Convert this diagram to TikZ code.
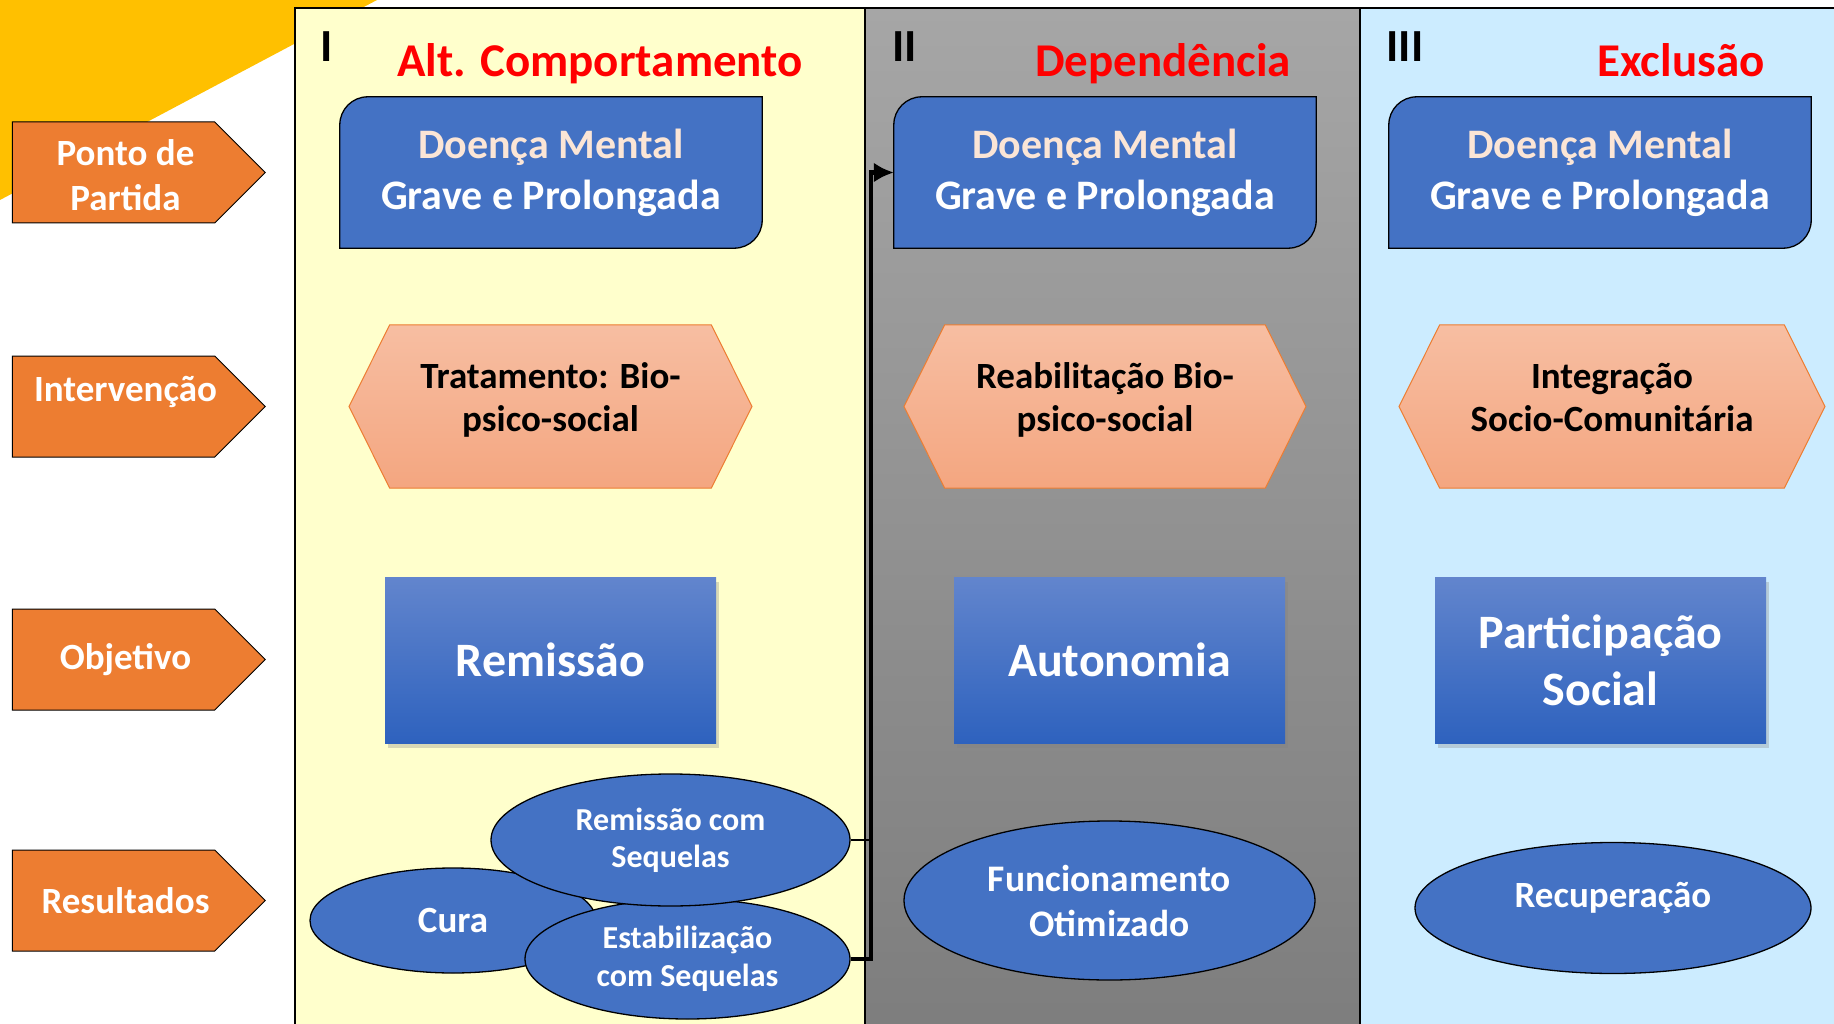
\documentclass[tikz,border=0pt]{standalone}
\usepackage{fontspec}
\setmainfont{Carlito}
\usetikzlibrary{shapes.geometric,shapes.symbols,arrows.meta,shadows}

\definecolor{tagorange}{HTML}{ED7D31}
\definecolor{blueA}{HTML}{4472C4}
\definecolor{peach}{HTML}{FBE5D6}
\definecolor{gold}{HTML}{FFC000}
\definecolor{panelyellow}{HTML}{FFFFCC}
\definecolor{panelblue}{HTML}{CCECFF}
\definecolor{graytop}{HTML}{A6A6A6}
\definecolor{graybot}{HTML}{7D7D7D}
\definecolor{hexlight}{HTML}{F7BEA2}
\definecolor{hexdark}{HTML}{F4A680}
\definecolor{goallight}{HTML}{6285CD}
\definecolor{goaldark}{HTML}{2E62BE}

\pgfdeclarelayer{panels}
\pgfdeclarelayer{boxfill}
\pgfsetlayers{panels,boxfill,main}

\begin{document}
\begin{tikzpicture}[x=1pt,y=-1pt,
    panel/.style={draw=black,line width=1.5pt},
    tag/.style={signal,signal to=east,signal pointer angle=90,fill=tagorange,draw=black,line width=1pt,
        minimum width=253pt,minimum height=101pt,inner sep=0pt},
    tagtext/.style={text=white,font=\bfseries\fontsize{37}{45}\selectfont,inner sep=0pt,align=center},
    title/.style={text=red,font=\bfseries\fontsize{47}{54}\selectfont,anchor=base},
    roman/.style={font=\bfseries\fontsize{46}{54}\selectfont,anchor=base west},
    illness/.style={minimum width=422pt,minimum height=151pt,inner sep=0pt,align=center,text=white,
        font=\bfseries\fontsize{42}{51}\selectfont},
    action/.style={signal,signal to=west and east,signal pointer angle=127,draw=tagorange,line width=1pt,
        top color=hexlight,bottom color=hexdark,minimum height=163pt,inner sep=0pt,align=center,
        text depth=18pt,font=\bfseries\fontsize{37}{43}\selectfont},
    goal/.style={rectangle,top color=goallight,bottom color=goaldark,minimum width=331pt,minimum height=166pt,
        inner sep=0pt,align=center,text=white,font=\bfseries\fontsize{48}{57}\selectfont,
        drop shadow={shadow xshift=3pt,shadow yshift=-5pt,opacity=0.3}},
    outcome/.style={ellipse,draw=black,line width=1.3pt,fill=blueA,inner sep=0pt,align=center,text=white},
  ]
  \useasboundingbox (0,0) rectangle (1834,1024);
  \clip (0,0) rectangle (1834,1024);

  % background and the three columns
  \begin{pgfonlayer}{panels}
    \fill[gold] (0,0) -- (377,0) -- (0,200) -- cycle;
    \filldraw[panel,fill=panelyellow] (295,8) rectangle (865,1040);
    \filldraw[panel,top color=graytop,bottom color=graybot] (865,8) rectangle (1360,1040);
    \filldraw[panel,fill=panelblue] (1360,8) rectangle (1850,1040);
  \end{pgfonlayer}

  \node[roman] (rI) at (317,62) {I};
  \node[roman] (rII) at (889,62) {II};
  \node[roman] (rIII) at (1383,62) {III};
  \node[title] (tI) at (600,77) {Alt. Comportamento};
  \node[title] (tII) at (1163,77) {Dependência};
  \node[title] (tIII) at (1681,77) {Exclusão};

  % row labels
  \node[tag] (pp) at (113.5,172.5) {};
  \node[tag] (iv) at (113.5,406.5) {};
  \node[tag] (ob) at (113.5,659.5) {};
  \node[tag] (re) at (113.5,900.5) {};
  \node[tagtext] (ppt) at ([xshift=12pt,yshift=-3pt]pp.center) {Ponto de\\Partida};
  \node[tagtext] (ivt) at ([xshift=12pt,yshift=15pt]iv.center) {Intervenção};
  \node[tagtext] (obt) at ([xshift=12pt]ob.center) {Objetivo};
  \node[tagtext] (ret) at ([xshift=12pt]re.center) {Resultados};

  % starting point
  \node[illness] (dI) at (551,172.5) {{\color{peach}Doença Mental}\\Grave e Prolongada};
  \node[illness] (dII) at (1105,172.5) {{\color{peach}Doença Mental}\\Grave e Prolongada};
  \node[illness] (dIII) at (1600,172.5) {{\color{peach}Doença Mental}\\Grave e Prolongada};
  \begin{pgfonlayer}{boxfill}
    \foreach \b in {dI,dII,dIII}
      \filldraw[fill=blueA,draw=black,line width=1.3pt] (\b.south west) [rounded corners=28pt] -- (\b.north west)
        [sharp corners] -- (\b.north east) [rounded corners=28pt] -- (\b.south east) [sharp corners] -- cycle;
  \end{pgfonlayer}

  % intervention
  \node[action,minimum width=403pt] (hI) at (550.5,406.5) {Tratamento: Bio-\\psico-social};
  \node[action,minimum width=402pt] (hII) at (1105,406.5) {Reabilitação Bio-\\psico-social};
  \node[action,minimum width=426pt] (hIII) at (1612,406.5) {Integração\\Socio-Comunitária};

  % goal
  \node[goal] (gI) at (550.5,660) {Remissão};
  \node[goal] (gII) at (1119.5,660) {Autonomia};
  \node[goal] (gIII) at (1600.5,660) {Participação\\Social};

  % results
  \node[outcome,minimum width=286pt,minimum height=105pt,font=\bfseries\fontsize{37}{40}\selectfont] (cura) at (453,920.5) {Cura};
  \node[outcome,minimum width=325pt,minimum height=120pt,font=\bfseries\fontsize{32}{38}\selectfont] (est) at (687.5,959) {Estabilização\\com Sequelas};
  \node[outcome,minimum width=359pt,minimum height=132pt,font=\bfseries\fontsize{32}{37}\selectfont] (rsq) at (670.5,840) {Remissão com\\Sequelas};
  \node[outcome,minimum width=411pt,minimum height=159pt,font=\bfseries\fontsize{37.5}{45}\selectfont] (func) at (1109.5,900.5) {Funcionamento\\Otimizado};
  \node[outcome,minimum width=396pt,minimum height=131pt,text depth=26pt,font=\bfseries\fontsize{37}{43}\selectfont] (recup) at (1613,908) {Recuperação};

  % link back to column II
  \coordinate (vl) at ([xshift=-23pt]dII.west);
  \draw[line width=1.8pt] (rsq.east) -- (rsq.east -| vl);
  \draw[line width=4.5pt,-{Latex[length=20pt,width=20pt]}] (est.east) -| (vl) -- (dII.west);
\end{tikzpicture}
\end{document}
